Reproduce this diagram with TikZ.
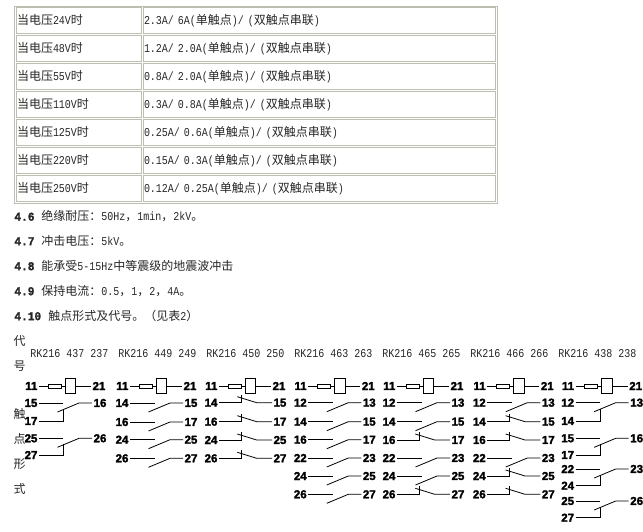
\documentclass[tikz,border=0pt]{standalone}
\usepackage{fontspec}
\setmainfont[FakeStretch=0.833]{Liberation Mono}
\newfontfamily\zhfont{Noto Sans CJK SC}
\newfontfamily\numfont[FakeBold=2]{Liberation Sans Bold}
\newfontfamily\fettfont[FakeStretch=0.93,FakeBold=1.5]{Liberation Mono Bold}
\newcommand{\zh}[1]{{\zhfont #1}}
\newcommand{\fett}[1]{{\fettfont #1}}
\definecolor{rand}{rgb}{0.74,0.74,0.69}
\tikzset{
	zelle/.style={draw=rand,line width=0.8pt,minimum height=26pt,inner xsep=1pt,inner ysep=0pt,
		text height=10pt,text depth=1.6pt,align=left,text=black!85,font=\fontsize{12}{14}\selectfont},
	zeile/.style={inner sep=0pt,anchor=west,text height=10pt,text depth=1.6pt,text=black!85,font=\fontsize{12}{14}\selectfont},
	num/.style={inner xsep=1.2pt,inner ysep=0pt,font=\numfont\fontsize{11.5}{13}\selectfont},
	kasten/.style={draw,line width=0.8pt,inner sep=0pt},
}

\begin{document}
\begin{tikzpicture}[x=1pt,y=-1pt,line width=0.8pt]
\def\spule#1#2{
	\def\spalte{#1}
	\def\xn{#2}
	\node[num,anchor=east] (#111) at ({#2-26},386) {11};
	\node[kasten,minimum width=13pt,minimum height=4.2pt] (#1kl) at ({#2-10.5},386) {};
	\node[kasten,minimum width=10.6pt,minimum height=14.4pt] (#1gr) at ({#2+5.3},386) {};
	\node[num,anchor=west] (#121) at ({#2+26},386) {21};
	\draw (#111) -- (#1kl);
	\draw (#1kl) -- (#1gr);
	\draw (#1gr) -- (#121);
}
\def\schliesser#1#2#3{
	\node[num,anchor=east] (\spalte#2) at ({\xn-26},#1) {#2};
	\node[num,anchor=west] (\spalte#3) at ({\xn+27},#1) {#3};
	\coordinate (\spalte#2e) at ({\xn-1},#1);
	\coordinate (\spalte#3k) at ({\xn+14},#1);
	\coordinate (\spalte#3f) at ({\xn-7.5},{#1+9});
	\draw (\spalte#2) -- (\spalte#2e);
	\draw (\spalte#3) -- (\spalte#3k) -- (\spalte#3f);
}
\def\oeffner#1#2#3{
	\node[num,anchor=east] (\spalte#2) at ({\xn-26},#1) {#2};
	\node[num,anchor=west] (\spalte#3) at ({\xn+27},#1) {#3};
	\coordinate (\spalte#2e) at ({\xn-3.5},#1);
	\coordinate (\spalte#2o) at ({\xn-3.5},{#1-8});
	\coordinate (\spalte#3k) at ({\xn+11.7},#1);
	\coordinate (\spalte#3f) at ({\xn-7.7},{#1-6});
	\draw (\spalte#2) -- (\spalte#2e) -- (\spalte#2o);
	\draw (\spalte#3) -- (\spalte#3k) -- (\spalte#3f);
}
\def\wechsel#1#2#3#4#5{
	\node[num,anchor=east] (\spalte#3) at ({\xn-26},#1) {#3};
	\node[num,anchor=east] (\spalte#4) at ({\xn-26},#2) {#4};
	\node[num,anchor=west] (\spalte#5) at ({\xn+27},#1) {#5};
	\coordinate (\spalte#3e) at ({\xn-1.7},#1);
	\coordinate (\spalte#4e) at ({\xn-1.7},#2);
	\coordinate (\spalte#4o) at ({\xn-1.7},{#1+6});
	\coordinate (\spalte#5k) at ({\xn+14},#1);
	\coordinate (\spalte#5f) at ({\xn-7.5},{#1+9});
	\draw (\spalte#3) -- (\spalte#3e);
	\draw (\spalte#4) -- (\spalte#4e) -- (\spalte#4o);
	\draw (\spalte#5) -- (\spalte#5k) -- (\spalte#5f);
}
\useasboundingbox (0,0) rectangle (643,532);
\node[draw=rand,line width=1pt,minimum width=483pt,minimum height=197pt,anchor=north west] (rahmen) at (14,6) {};
\foreach \i/\u/\a/\b/\rest in {0/24/2.3/6A/,1/48/1.2/2.0A/,2/55/0.8/2.0A/,3/110/0.3/0.8A/,4/125/0.25/0.6A/,5/220/0.15/0.3A/,6/250/0.12/0.25A/}{
	\node[zelle,text width=123pt,minimum width=125pt] (la\i) at (78.5,{20+28*\i}) {\zh{当电压}\u V\zh{时}};
	\node[zelle,text width=350pt,minimum width=352pt] (ra\i) at (319,{20+28*\i}) {\a A/ \b(\zh{单触点})/ (\zh{双触点串联})};
}
\node[zeile] (p46) at (14,216.5) {\fett{4.6}\hspace{7pt}\zh{绝缘耐压：}50Hz\zh{，}1min\zh{，}2kV\zh{。}};
\node[zeile] (p47) at (14,241) {\fett{4.7}\hspace{7pt}\zh{冲击电压：}5kV\zh{。}};
\node[zeile] (p48) at (14,266) {\fett{4.8}\hspace{7pt}\zh{能承受}5-15Hz\zh{中等震级的地震波冲击}};
\node[zeile] (p49) at (14,291) {\fett{4.9}\hspace{7pt}\zh{保持电流：}0.5\zh{，}1\zh{，}2\zh{，}4A\zh{。}};
\node[zeile] (p410) at (14,316) {\fett{4.10}\hspace{7.2pt}\zh{触点形式及代号。（见表}2\zh{）}};
\foreach \t/\y in {代/341,号/366,触/414,点/439,形/464,式/489}
	\node[zeile,anchor=center] (sp\y) at (19.5,\y) {\zh{\t}};
\foreach \t/\x in {437 237/30,449 249/118,450 250/206,463 263/294,465 265/382,466 266/470,438 238/558}
	\node[zeile] (kopf\x) at (\x,353) {RK216 \t};
\spule{a}{65}
\wechsel{403}{421}{15}{17}{16}
\wechsel{438.3}{455}{25}{27}{26}
\spule{b}{156}
\schliesser{403}{14}{15}
\schliesser{422}{16}{17}
\schliesser{439.7}{24}{25}
\schliesser{458.3}{26}{27}
\spule{c}{245}
\oeffner{402.7}{14}{15}
\oeffner{421.7}{16}{17}
\oeffner{440}{24}{25}
\oeffner{458.3}{26}{27}
\spule{d}{334.3}
\schliesser{402.7}{12}{13}
\schliesser{421.7}{14}{15}
\schliesser{439.7}{16}{17}
\schliesser{458}{22}{23}
\schliesser{476}{24}{25}
\schliesser{494.3}{26}{27}
\spule{e}{423}
\schliesser{402.7}{12}{13}
\schliesser{421.7}{14}{15}
\oeffner{440}{16}{17}
\schliesser{458}{22}{23}
\schliesser{476}{24}{25}
\oeffner{494.3}{26}{27}
\spule{f}{513.3}
\schliesser{402.7}{12}{13}
\oeffner{421.7}{14}{15}
\oeffner{440}{16}{17}
\schliesser{458}{22}{23}
\oeffner{476}{24}{25}
\oeffner{494.3}{26}{27}
\spule{g}{601.7}
\wechsel{402.7}{421}{12}{14}{13}
\wechsel{438.3}{455}{15}{17}{16}
\wechsel{469}{485.7}{22}{24}{23}
\wechsel{501}{517.7}{25}{27}{26}
\end{tikzpicture}
\end{document}
